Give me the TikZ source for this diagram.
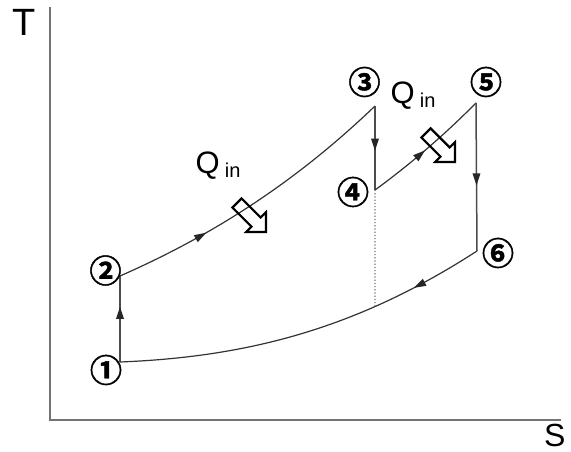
\documentclass[tikz,border=0pt]{standalone}
\usepackage{fontspec}
\setmainfont{Liberation Sans}
\newfontfamily\circfont{Noto Sans CJK JP}[BoldFont={* Bold}, BoldFeatures={FakeBold=1.4}]
\usetikzlibrary{decorations.markings}

\tikzset{
  axis/.style={draw=black!55, line width=1.6pt},
  process/.style={draw=black!80, line width=1.2pt},
  isoline/.style={draw=black!70, line width=1.5pt},
  dotline/.style={draw=black!55, line width=1.2pt, dotted},
  midarrow/.style={postaction={decorate}, decoration={markings,
      mark=at position #1 with {\fill[black!85] (-11pt,-4pt) -- (1pt,0pt) -- (-11pt,4pt) -- cycle;}}},
  statelabel/.style={font=\circfont\bfseries\fontsize{32}{32}\selectfont, inner sep=0pt},
  axislabel/.style={font=\fontsize{38}{38}\selectfont, inner sep=0pt, anchor=base west},
  heatlabel/.style={inner sep=0pt, anchor=base west},
  hollowarrow/.pic={
    \draw[line width=2.2pt, line join=miter]
      (0,-6.5) -- (27,-6.5) -- (27,-14) -- (41,0) -- (27,14) -- (27,6.5)
      -- (0,6.5) -- cycle;
  }
}

\newcommand{\heat}{{\fontsize{31}{31}\selectfont Q}\hspace{5pt}\raisebox{-4pt}{\fontsize{20}{20}\selectfont in}}

\begin{document}
\begin{tikzpicture}[x=1pt,y=-1pt]
  \useasboundingbox (0,0) rectangle (571,452);

  % axes
  \coordinate (origin) at (50,420);
  \coordinate (ytop) at (50,7);
  \coordinate (xend) at (561,420);
  \draw[axis] (ytop) -- (origin) -- (xend);
  \node[axislabel] (tlab) at (12,36) {T};
  \node[axislabel, font=\fontsize{32}{32}\selectfont] (slab) at (544,446) {S};

  % cycle states
  \coordinate (s1) at (120,362);
  \coordinate (s2) at (120,276);
  \coordinate (s3) at (375,106);
  \coordinate (s4) at (375,190);
  \coordinate (s5) at (476,103);
  \coordinate (s6) at (477,251);

  % processes
  \draw[isoline, midarrow=0.63] (s1) -- (s2);
  \draw[process, midarrow=0.31] (s2) .. controls (205,238.6) and (290,187.6) .. (s3);
  \draw[isoline, midarrow=0.52] (s3) -- (s4);
  \draw[process, midarrow=0.47] (s4) .. controls (408.7,165.4) and (442.3,136.9) .. (s5);
  \draw[isoline, midarrow=0.55] (s5) -- (s6);
  \draw[process, midarrow=0.19] (s6) .. controls (355,330) and (245,357) .. (s1);

  % foot of the dotted line on the heat-rejection curve
  \path (s6) .. controls (355,330) and (245,357) .. (s1) coordinate[pos=0.285] (foot);
  \draw[dotline] (s4) -- (foot);

  % state numbers
  \node[statelabel] (n1) at (106,370) {①};
  \node[statelabel] (n2) at (105.5,270.5) {②};
  \node[statelabel] (n3) at (364.5,82) {③};
  \node[statelabel] (n4) at (353,192) {④};
  \node[statelabel] (n5) at (486,82) {⑤};
  \node[statelabel] (n6) at (498,253) {⑥};

  % heat input
  \node[heatlabel] (q1) at (195.5,173) {\heat};
  \node[heatlabel] (q2) at (390.5,103) {\heat};
  \pic[rotate=-45] at (237,203) {hollowarrow};
  \pic[rotate=-45] at (426,133) {hollowarrow};
\end{tikzpicture}
\end{document}
